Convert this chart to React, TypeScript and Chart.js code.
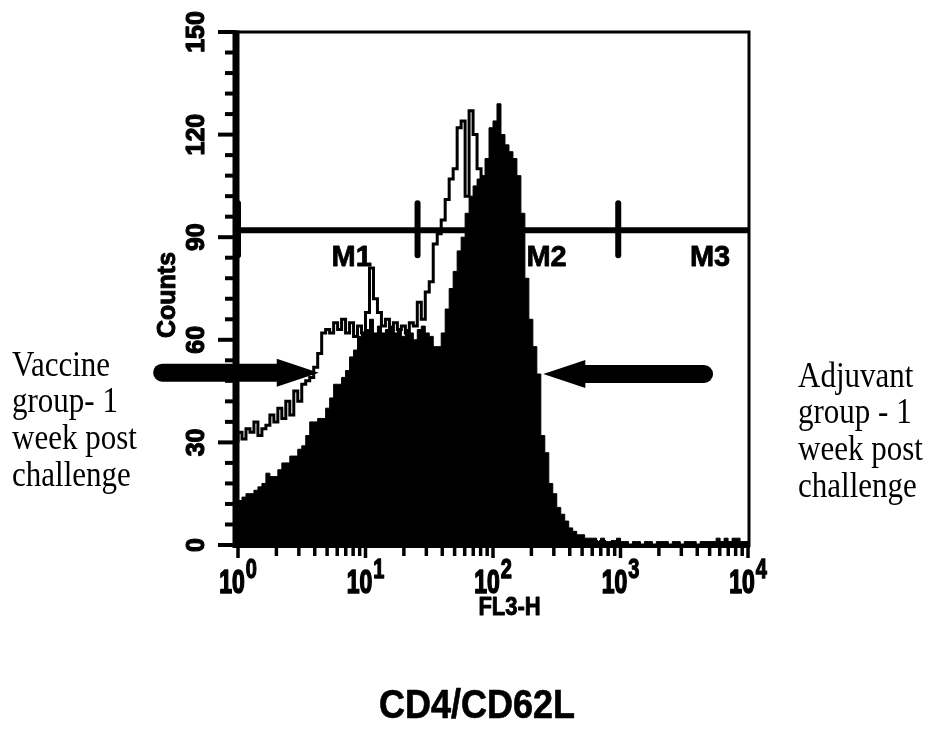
import React, { useEffect, useRef } from "react";
import { Chart, registerables } from "chart.js";

Chart.register(...registerables);

// ---- data ----
const BINS_PER_DECADE = 32;

// Filled (black) histogram counts, 128 channels over 10^0..10^4
const filledCounts = [
  13, 13, 14, 15, 15, 16, 17, 18, 21, 20,
  20, 22, 24, 24, 26, 26, 28, 29, 32, 36,
  36, 37, 37, 40, 43, 47, 47, 49, 51, 55,
  57, 61, 62, 63, 66, 62, 64, 62, 63, 64,
  62, 63, 61, 63, 62, 60, 63, 64, 62, 61,
  58, 58, 62, 69, 75, 80, 86, 90, 97, 102,
  105, 107, 108, 113, 122, 124, 129, 120, 117, 115,
  113, 108, 97, 78, 66, 58, 50, 32, 27, 18,
  15, 11, 9, 7, 5, 4, 3, 3, 2, 2,
  2, 1, 2, 1, 1, 1, 2, 1, 1, 0,
  1, 1, 0, 1, 1, 0, 1, 1, 1, 0,
  1, 1, 0, 1, 1, 1, 0, 1, 1, 1,
  1, 2, 1, 2, 1, 2, 2, 1,
];

// Open (outline) histogram counts
const outlineCounts = [
  30, 33, 31, 34, 33, 36, 32, 34, 35, 38,
  36, 40, 37, 42, 38, 45, 42, 47, 48, 49,
  52, 56, 62, 63, 62, 65, 63, 66, 62, 65,
  61, 64, 62, 68, 81, 72, 68, 64, 66, 62,
  65, 63, 64, 62, 65, 64, 71, 66, 74, 77,
  88, 91, 95, 101, 107, 110, 122, 124, 102, 127,
  120, 110, 105, 100, 96, 90, 84, 78, 72, 66,
  60, 52, 44, 36, 28, 22, 17, 13, 10, 8,
  6, 5, 4, 3, 2, 2, 1, 1, 1, 1,
  1, 0, 1, 0, 0, 1, 0, 0, 0, 0,
  0, 0, 0, 0, 0, 0, 0, 0, 0, 0,
  0, 0, 0, 0, 0, 0, 0, 0, 0, 0,
  0, 0, 0, 0, 0, 0, 0, 0,
];

const yMajorTicks = [0, 30, 60, 90, 120, 150];
const yMinorTicks = [6, 12, 18, 24, 36, 42, 48, 54, 66, 72, 78, 84, 96, 102, 108, 114, 126, 132, 138, 144];
const xDecades = [0, 1, 2, 3, 4];
const xMinorMultipliers = [2, 3, 4, 5, 6, 7, 8, 9];

const gateBounds = [1, 25.6, 960, 10000];
const gateLabels = ["M1", "M2", "M3"];
const gateLabelX = [7.8, 263, 5040];
const gateLevel = 92;

const leftArrow = { tipX: 4.3, tailX: 0.216, y: 50.4 };
const rightArrow = { tipX: 248, tailX: 5320, y: 50 };

const leftNote = ["Vaccine", "group- 1", "week post", "challenge"];
const rightNote = ["Adjuvant", "group - 1", "week post", "challenge"];

const xTitle = "FL3-H";
const yTitle = "Counts";
const chartTitle = "CD4/CD62L";

// ---- helpers ----
function toPoints(counts: number[]) {
  const pts = counts.map((c, i) => ({ x: Math.pow(10, i / BINS_PER_DECADE), y: c }));
  pts.push({ x: Math.pow(10, counts.length / BINS_PER_DECADE), y: counts[counts.length - 1] });
  return pts;
}

type TOpts = {
  align?: CanvasTextAlign;
  baseline?: CanvasTextBaseline;
  sx?: number;
  sy?: number;
  rot?: number;
  heavy?: number;
};

function drawText(ctx: CanvasRenderingContext2D, s: string, x: number, y: number, font: string, o: TOpts = {}) {
  ctx.save();
  ctx.translate(x, y);
  if (o.rot) ctx.rotate(o.rot);
  ctx.scale(o.sx ?? 1, o.sy ?? 1);
  ctx.font = font;
  ctx.fillStyle = "#000";
  ctx.textAlign = o.align ?? "left";
  ctx.textBaseline = o.baseline ?? "alphabetic";
  ctx.fillText(s, 0, 0);
  if (o.heavy) {
    ctx.strokeStyle = "#000";
    ctx.lineWidth = o.heavy;
    ctx.lineJoin = "round";
    ctx.strokeText(s, 0, 0);
  }
  ctx.restore();
}

function drawArrow(ctx: CanvasRenderingContext2D, tailPx: number, tipPx: number, y: number) {
  const dir = tipPx > tailPx ? 1 : -1;
  const headLen = 42;
  const headHalf = 14;
  const shaft = 18;
  const baseX = tipPx - dir * headLen;
  ctx.save();
  ctx.fillStyle = "#000";
  ctx.strokeStyle = "#000";
  ctx.lineCap = "round";
  ctx.lineWidth = shaft;
  ctx.beginPath();
  ctx.moveTo(tailPx + dir * shaft / 2, y);
  ctx.lineTo(baseX + dir * 4, y);
  ctx.stroke();
  ctx.beginPath();
  ctx.moveTo(tipPx, y);
  ctx.lineTo(baseX, y - headHalf);
  ctx.lineTo(baseX, y + headHalf);
  ctx.closePath();
  ctx.fill();
  ctx.restore();
}

const SANS = '"Liberation Sans", Arial, sans-serif';
const SERIF = '"Liberation Serif", "Times New Roman", serif';

const decorPlugin = {
  id: "facsDecor",
  beforeDatasetsDraw(chart: any) {
    const ctx: CanvasRenderingContext2D = chart.ctx;
    const xs = chart.scales.x;
    const ys = chart.scales.y;
    const gy = ys.getPixelForValue(gateLevel);
    ctx.save();
    ctx.strokeStyle = "#000";
    ctx.lineWidth = 6;
    ctx.beginPath();
    ctx.moveTo(chart.chartArea.left, gy);
    ctx.lineTo(chart.chartArea.right, gy);
    ctx.stroke();
    ctx.lineCap = "round";
    ctx.lineWidth = 6;
    for (let i = 0; i < gateBounds.length - 1; i++) {
      const gx = xs.getPixelForValue(gateBounds[i]);
      ctx.beginPath();
      ctx.moveTo(gx, gy - 27);
      ctx.lineTo(gx, gy + 25);
      ctx.stroke();
    }
    ctx.restore();
    gateLabels.forEach((lab, i) => {
      drawText(ctx, lab, xs.getPixelForValue(gateLabelX[i]), gy + 36, `bold 29px ${SANS}`, { align: "center", heavy: 0.8 });
    });
  },
  afterDatasetsDraw(chart: any) {
    const ctx: CanvasRenderingContext2D = chart.ctx;
    const xs = chart.scales.x;
    const ys = chart.scales.y;
    const { left, right, top, bottom } = chart.chartArea;
    const axisX = left - 2;

    ctx.save();
    ctx.strokeStyle = "#000";
    ctx.lineCap = "butt";
    // frame
    ctx.lineWidth = 3;
    ctx.beginPath();
    ctx.moveTo(axisX, top);
    ctx.lineTo(right + 1, top);
    ctx.lineTo(right + 1, bottom + 2);
    ctx.stroke();
    ctx.beginPath();
    ctx.moveTo(axisX - 3, bottom + 1.5);
    ctx.lineTo(right + 2, bottom + 1.5);
    ctx.stroke();
    // left axis
    ctx.lineWidth = 7;
    ctx.beginPath();
    ctx.moveTo(axisX, top - 1.5);
    ctx.lineTo(axisX, bottom + 3);
    ctx.stroke();

    // y ticks
    ctx.lineWidth = 4;
    yMajorTicks.forEach((v) => {
      const py = ys.getPixelForValue(v);
      ctx.beginPath();
      ctx.moveTo(axisX - 18, py);
      ctx.lineTo(axisX, py);
      ctx.stroke();
    });
    yMinorTicks.forEach((v) => {
      const py = ys.getPixelForValue(v);
      ctx.beginPath();
      ctx.moveTo(axisX - 11, py);
      ctx.lineTo(axisX, py);
      ctx.stroke();
    });

    // x ticks
    ctx.lineWidth = 3.5;
    xDecades.forEach((d) => {
      const px = Math.min(xs.getPixelForValue(Math.pow(10, d)), right);
      ctx.beginPath();
      ctx.moveTo(px, bottom + 2);
      ctx.lineTo(px, bottom + 13);
      ctx.stroke();
      if (d < 4) {
        xMinorMultipliers.forEach((m) => {
          const pm = xs.getPixelForValue(m * Math.pow(10, d));
          ctx.beginPath();
          ctx.moveTo(pm, bottom + 2);
          ctx.lineTo(pm, bottom + 11);
          ctx.stroke();
        });
      }
    });
    ctx.restore();

    // y tick labels (rotated)
    yMajorTicks.forEach((v) => {
      const py = ys.getPixelForValue(v);
      drawText(ctx, String(v), 204, py, `bold 25px ${SANS}`, { align: "center", rot: -Math.PI / 2, heavy: 1.2 });
    });
    drawText(ctx, yTitle, 175, 295, `bold 25px ${SANS}`, { align: "center", rot: -Math.PI / 2, heavy: 1 });

    // x tick labels 10^n
    const baseFont = `bold 23px ${SANS}`;
    const supFont = `bold 20px ${SANS}`;
    xDecades.forEach((d) => {
      const px = xs.getPixelForValue(Math.pow(10, d));
      ctx.font = baseFont;
      const wb = ctx.measureText("10").width;
      ctx.font = supFont;
      const ws = ctx.measureText(String(d)).width;
      const start = px - (wb + ws + 1) / 2;
      drawText(ctx, "10", start, bottom + 48, baseFont, { sy: 1.45, heavy: 1.2 });
      drawText(ctx, String(d), start + wb + 1, bottom + 33, supFont, { sy: 1.4, heavy: 1 });
    });
    drawText(ctx, xTitle, xs.getPixelForValue(Math.pow(10, 2.13)), bottom + 70, `bold 22px ${SANS}`, { align: "center", sy: 1.15, heavy: 0.8 });

    // arrows
    drawArrow(ctx, xs.getPixelForValue(leftArrow.tailX), xs.getPixelForValue(leftArrow.tipX), ys.getPixelForValue(leftArrow.y));
    drawArrow(ctx, xs.getPixelForValue(rightArrow.tailX), xs.getPixelForValue(rightArrow.tipX), ys.getPixelForValue(rightArrow.y));

    // side notes
    const serifFont = `31px ${SERIF}`;
    const leftBase = [376, 412, 449, 486];
    leftNote.forEach((s, i) => drawText(ctx, s, 12, leftBase[i], serifFont, { sy: 1.15 }));
    const rightBase = [387, 423, 460, 497];
    rightNote.forEach((s, i) => drawText(ctx, s, 798, rightBase[i], serifFont, { sy: 1.15 }));

    // title
    drawText(ctx, chartTitle, 477, 718, `bold 36px ${SANS}`, { align: "center", sy: 1.12, heavy: 0.6 });
  },
};

export default function App() {
  const ref = useRef<HTMLCanvasElement | null>(null);
  useEffect(() => {
    if (!ref.current) return;
    const chart = new Chart(ref.current, {
      type: "line",
      data: {
        datasets: [
          {
            label: "Vaccine group",
            data: toPoints(outlineCounts),
            stepped: "after",
            borderColor: "#000",
            borderWidth: 3,
            pointRadius: 0,
            fill: false,
            order: 1,
          },
          {
            label: "Adjuvant group",
            data: toPoints(filledCounts),
            stepped: "after",
            borderColor: "#000",
            backgroundColor: "#000",
            borderWidth: 1,
            pointRadius: 0,
            fill: "origin",
            order: 2,
          },
        ],
      },
      options: {
        responsive: false,
        animation: false,
        events: [],
        layout: { padding: { left: 238, top: 32, right: 186, bottom: 194 } },
        plugins: {
          legend: { display: false },
          tooltip: { enabled: false },
          title: { display: false },
        },
        scales: {
          x: { type: "logarithmic", min: 1, max: 10000, display: false },
          y: { type: "linear", min: 0, max: 150, display: false },
        },
      } as any,
      plugins: [decorPlugin as any],
    });
    return () => chart.destroy();
  }, []);
  return (
    <div style={{ position: "fixed", left: 0, top: 0, width: 934, height: 739, background: "#fff" }}>
      <canvas ref={ref} width={934} height={739} style={{ display: "block", width: 934, height: 739 }} />
    </div>
  );
}
